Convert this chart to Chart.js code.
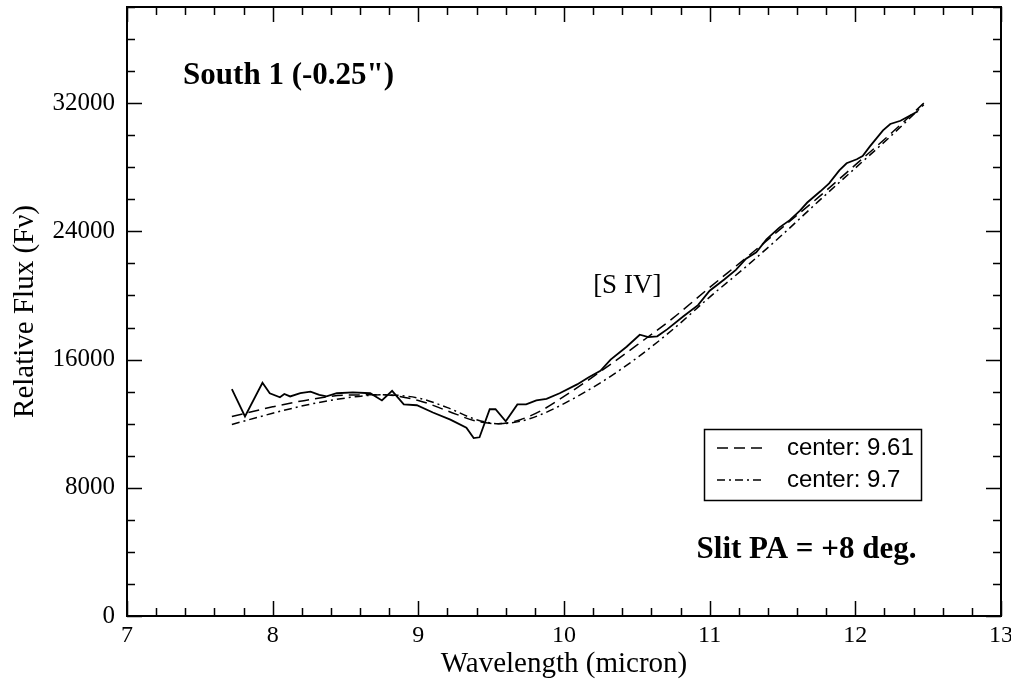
<!DOCTYPE html>
<html><head><meta charset="utf-8">
<script src="https://cdn.jsdelivr.net/npm/chart.js@4/dist/chart.umd.min.js"></script>
<style>html,body{margin:0;padding:0;background:#fff}#wrap{width:1011px;height:686px}</style>
</head><body><div id="wrap"><canvas id="c" width="1011" height="686"></canvas></div>
<script>
// Observed spectrum (solid line)
const wavelengths = [7.72,7.81,7.93,7.98,8.05,8.08,8.12,8.19,8.26,8.32,8.37,8.44,8.55,8.67,8.75,8.82,8.90,8.99,9.10,9.22,9.33,9.38,9.42,9.49,9.53,9.60,9.68,9.74,9.81,9.88,9.97,10.09,10.17,10.25,10.32,10.43,10.52,10.58,10.64,10.71,10.82,10.92,11.00,11.10,11.18,11.25,11.32,11.39,11.48,11.55,11.62,11.67,11.76,11.82,11.89,11.94,12.01,12.05,12.10,12.19,12.24,12.31,12.37,12.43];
const fluxObserved = [14150,12450,14550,13900,13650,13850,13700,13900,14000,13800,13700,13900,13950,13900,13450,14050,13200,13150,12700,12250,11750,11100,11150,12900,12900,12150,13200,13200,13450,13550,13900,14450,14900,15300,16000,16800,17550,17400,17450,17900,18700,19400,20300,21000,21600,22300,22700,23500,24250,24700,25300,25800,26500,27000,27800,28250,28500,28700,29300,30300,30700,30900,31200,31500];
// Model fits
const fitWavelengths = [7.72,8.0,8.25,8.5,8.75,9.0,9.2,9.4,9.55,9.7,9.85,10.0,10.25,10.5,10.75,11.0,11.25,11.5,11.75,12.0,12.25,12.47];
const fit961 = [12450,13050,13500,13780,13800,13450,12800,12150,12000,12250,12850,13700,15250,16900,18600,20500,22350,24250,26150,28150,30150,32000];
const fit970 = [11950,12650,13200,13600,13800,13600,13000,12250,12000,12150,12600,13250,14550,16100,17900,19900,21800,23800,25900,27950,30000,31900];
const seriesNames = ['observed','center: 9.61','center: 9.7'];
const xTickValues = [7,8,9,10,11,12,13];
const yTickValues = [0,8000,16000,24000,32000];

const toPts = (xs, ys) => xs.map((x, i) => ({x: x, y: ys[i]}));
const SERIF = '"Liberation Serif", "Times New Roman", serif';
const SANS = '"Liberation Sans", Arial, sans-serif';

const framePlugin = {
  id: 'frame',
  afterDatasetsDraw(chart) {
    const {ctx, chartArea: a, scales: {x, y}} = chart;
    ctx.save();
    ctx.strokeStyle = '#000';
    ctx.lineWidth = 2;
    ctx.strokeRect(a.left, a.top, a.right - a.left, a.bottom - a.top);
    ctx.lineWidth = 1.5;
    ctx.beginPath();
    for (let v = 7; v <= 13.0001; v += 0.2) {
      const px = Math.round(x.getPixelForValue(v)) + 0.5;
      const major = Math.abs(v - Math.round(v)) < 1e-6;
      const len = major ? 15 : 8;
      ctx.moveTo(px, a.bottom); ctx.lineTo(px, a.bottom - len);
      ctx.moveTo(px, a.top); ctx.lineTo(px, a.top + len);
    }
    for (let v = 0; v <= 38000; v += 2000) {
      const py = Math.round(y.getPixelForValue(v)) + 0.5;
      const major = v % 8000 === 0;
      const len = major ? 15 : 8;
      ctx.moveTo(a.left, py); ctx.lineTo(a.left + len, py);
      ctx.moveTo(a.right, py); ctx.lineTo(a.right - len, py);
    }
    ctx.stroke();

    // annotations
    ctx.fillStyle = '#000';
    ctx.textBaseline = 'middle';
    ctx.textAlign = 'left';
    ctx.font = 'bold 31px ' + SERIF;
    ctx.fillText('South 1 (-0.25")', x.getPixelForValue(7.385), y.getPixelForValue(33700));
    ctx.font = '27px ' + SERIF;
    ctx.fillText('[S IV]', x.getPixelForValue(10.2), y.getPixelForValue(20600));
    ctx.font = 'bold 31px ' + SERIF;
    ctx.fillText('Slit PA = +8 deg.', x.getPixelForValue(10.91), y.getPixelForValue(4150));

    // legend
    const bx = 704, by = 429, bw = 217, bh = 71;
    ctx.lineWidth = 1.5;
    ctx.strokeRect(bx + 0.5, by + 0.5, bw, bh);
    ctx.font = '24px ' + SANS;
    const rows = [
      {label: seriesNames[1], dash: [11, 6], yy: by + 19},
      {label: seriesNames[2], dash: [8, 4, 2, 4], yy: by + 51}
    ];
    rows.forEach(r => {
      ctx.setLineDash(r.dash);
      ctx.beginPath();
      ctx.moveTo(bx + 13, r.yy); ctx.lineTo(bx + 60, r.yy);
      ctx.stroke();
      ctx.setLineDash([]);
      ctx.fillText(r.label, bx + 83, r.yy);
    });
    ctx.restore();
  }
};

new Chart(document.getElementById('c'), {
  type: 'scatter',
  data: {
    datasets: [
      {label: seriesNames[0], data: toPts(wavelengths, fluxObserved), showLine: true, borderColor: '#000', borderWidth: 1.8, pointRadius: 0, tension: 0},
      {label: seriesNames[1], data: toPts(fitWavelengths, fit961), showLine: true, borderColor: '#000', borderWidth: 1.5, borderDash: [11, 6], pointRadius: 0, cubicInterpolationMode: 'monotone'},
      {label: seriesNames[2], data: toPts(fitWavelengths, fit970), showLine: true, borderColor: '#000', borderWidth: 1.5, borderDash: [8, 4, 2, 4], pointRadius: 0, cubicInterpolationMode: 'monotone'}
    ]
  },
  options: {
    responsive: false,
    animation: false,
    devicePixelRatio: 1,
    layout: {autoPadding: false, padding: {top: 7, right: 10, left: 0, bottom: 0}},
    plugins: {legend: {display: false}, tooltip: {enabled: false}},
    scales: {
      x: {
        type: 'linear', min: 7, max: 13,
        afterBuildTicks: s => { s.ticks = xTickValues.map(v => ({value: v})); },
        afterFit: s => { s.height = 70; s.paddingLeft = 0; s.paddingRight = 0; },
        grid: {display: false, drawTicks: false},
        border: {display: false},
        ticks: {color: '#000', padding: 5, maxRotation: 0, font: {family: SERIF, size: 24}, callback: v => String(v)},
        title: {display: true, text: 'Wavelength (micron)', color: '#000', font: {family: SERIF, size: 29}, padding: {top: 0, bottom: 4}}
      },
      y: {
        type: 'linear', min: 0, max: 38000,
        afterBuildTicks: s => { s.ticks = yTickValues.map(v => ({value: v})); },
        afterFit: s => { s.width = 127; s.paddingTop = 0; s.paddingBottom = 0; },
        grid: {display: false, drawTicks: false},
        border: {display: false},
        ticks: {color: '#000', padding: 12, font: {family: SERIF, size: 25}, callback: v => String(v)},
        title: {display: true, text: 'Relative Flux (Fν)', color: '#000', font: {family: SERIF, size: 29}, padding: {top: 8, bottom: 0}}
      }
    }
  },
  plugins: [framePlugin]
});
</script></body></html>
